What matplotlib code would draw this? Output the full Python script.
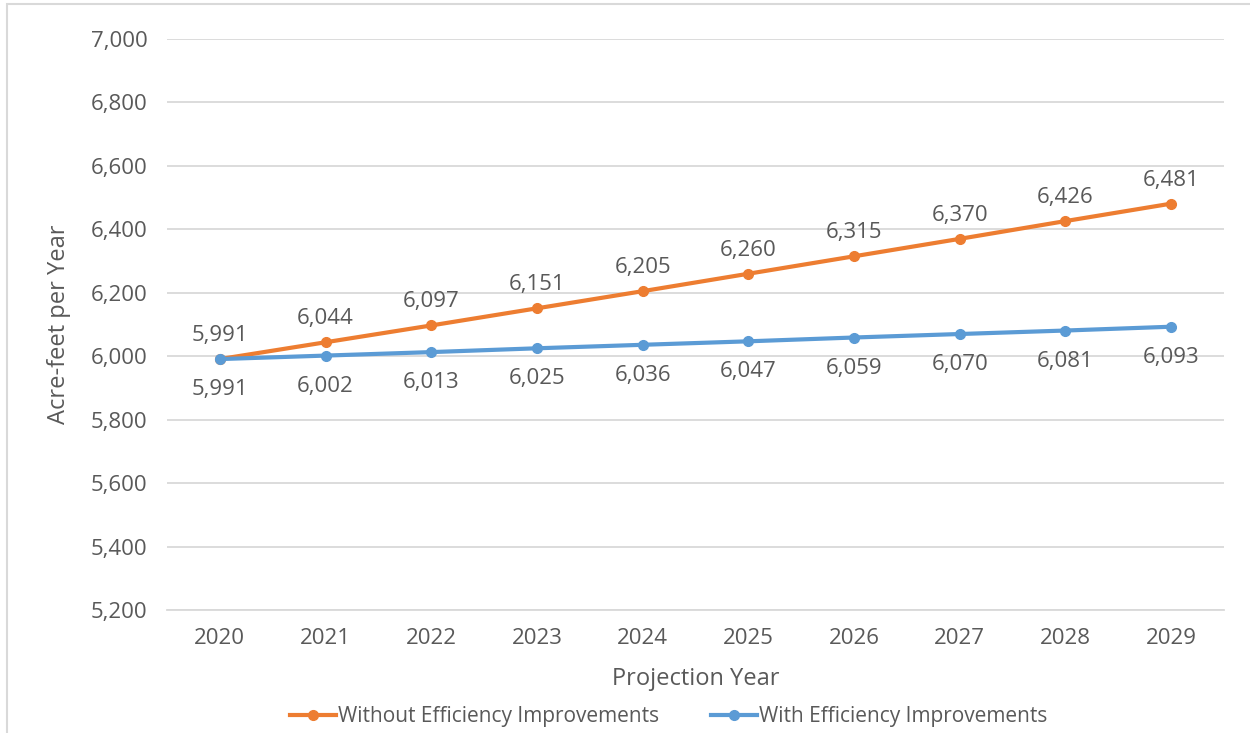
import matplotlib.pyplot as plt
from matplotlib.patches import Rectangle
from matplotlib.ticker import FuncFormatter

plt.rcParams['font.family'] = ['Open Sans', 'DejaVu Sans']

years = ['2020', '2021', '2022', '2023', '2024', '2025', '2026', '2027', '2028', '2029']
without_eff = [5991, 6044, 6097, 6151, 6205, 6260, 6315, 6370, 6426, 6481]
with_eff = [5991, 6002, 6013, 6025, 6036, 6047, 6059, 6070, 6081, 6093]

orange = '#ED7D31'
blue = '#5B9BD5'
txt = '#595959'
grid = '#D9D9D9'

fig = plt.figure(figsize=(12.5, 7.33), dpi=100)
ax = fig.add_axes([0.1336, 0.1678, 0.8456, 0.779])

x = range(len(years))
ax.plot(x, without_eff, color=orange, lw=3, marker='o', ms=7,
        label='Without Efficiency Improvements', zorder=3)
ax.plot(x, with_eff, color=blue, lw=3, marker='o', ms=7,
        label='With Efficiency Improvements', zorder=3)

# data labels: orange above, blue below
for i, v in enumerate(without_eff):
    ax.annotate(f'{v:,}', (i, v), xytext=(0, 17), textcoords='offset points',
                ha='center', va='center', fontsize=16, color=txt)
for i, v in enumerate(with_eff):
    ax.annotate(f'{v:,}', (i, v), xytext=(0, -22), textcoords='offset points',
                ha='center', va='center', fontsize=16, color=txt)

ax.set_xlim(-0.5, len(years) - 0.5)
ax.set_ylim(5200, 7000)
ax.set_yticks(range(5200, 7001, 200))
ax.yaxis.set_major_formatter(FuncFormatter(lambda v, p: f'{int(v):,}'))
ax.set_xticks(list(x))
ax.set_xticklabels(years)

ax.grid(axis='y', color=grid, lw=1.3)
ax.set_axisbelow(True)
for s in ['top', 'right', 'left']:
    ax.spines[s].set_visible(False)
ax.spines['bottom'].set_color(grid)
ax.spines['bottom'].set_linewidth(1.3)
ax.tick_params(length=0, labelsize=16, colors=txt, pad=13)
ax.tick_params(axis='y', pad=14)

ax.set_ylabel('Acre-feet per Year', fontsize=17, color=txt, labelpad=14)
ax.set_xlabel('Projection Year', fontsize=17, color=txt, labelpad=13)

ax.legend(loc='center', bbox_to_anchor=(0.475, -0.187), ncol=2, frameon=False,
          fontsize=15, labelcolor=txt, handlelength=2.2, handletextpad=0.1,
          columnspacing=2.5, bbox_transform=ax.transAxes)

fig.patches.append(Rectangle((7 / 1250, -0.1), 1.2, 1 - 4.5 / 733 + 0.1,
                             transform=fig.transFigure, fill=False,
                             edgecolor=grid, lw=1.5))

fig.savefig('out.png', dpi=100)
